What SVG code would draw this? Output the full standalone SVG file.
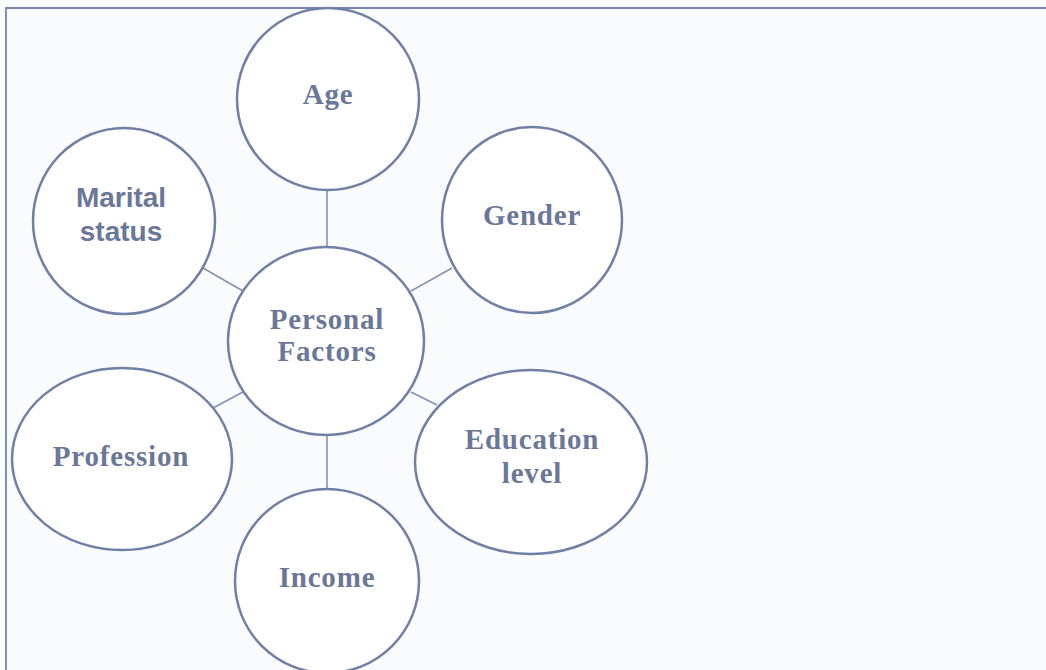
<svg xmlns="http://www.w3.org/2000/svg" width="1046" height="670" viewBox="0 0 1046 670">
  <style>
    .node { fill: #ffffff; stroke: #6f7fa6; stroke-width: 2.5; }
    .link { stroke: #8593b5; stroke-width: 1.6; fill: none; }
    .frame { stroke: #7486ad; stroke-width: 1.8; fill: none; }
    .serif { font-family: "Liberation Serif", "Times New Roman", serif; font-weight: bold; font-size: 29px; letter-spacing: 0.8px; fill: #6a7798; text-anchor: middle; }
    .sans { font-family: "Liberation Sans", Arial, sans-serif; font-weight: bold; font-size: 28px; fill: #6a7798; text-anchor: middle; }
  </style>
  <rect x="0" y="0" width="1046" height="670" fill="#fafbfd"/>
  <!-- page frame -->
  <path class="frame" d="M 6 670 L 6 8 L 1046 8"/>

  <!-- connectors from the hub to each factor -->
  <g id="connectors">
    <line class="link" x1="327" y1="190" x2="327" y2="248"/>
    <line class="link" x1="203" y1="268" x2="243" y2="291"/>
    <line class="link" x1="452" y1="268" x2="411" y2="291"/>
    <line class="link" x1="213" y1="408" x2="243" y2="392"/>
    <line class="link" x1="437" y1="405" x2="411" y2="392"/>
    <line class="link" x1="327" y1="435" x2="327" y2="490"/>
  </g>

  <g id="age">
    <ellipse class="node" cx="328" cy="99" rx="91" ry="91"/>
    <text class="serif" x="328" y="104">Age</text>
  </g>

  <g id="marital-status">
    <ellipse class="node" cx="124" cy="221" rx="91" ry="93"/>
    <text class="sans" x="121" y="207">Marital</text>
    <text class="sans" x="121" y="241">status</text>
  </g>

  <g id="gender">
    <ellipse class="node" cx="532" cy="220" rx="90" ry="93"/>
    <text class="serif" x="532" y="225">Gender</text>
  </g>

  <g id="personal-factors">
    <ellipse class="node" cx="326" cy="341" rx="98" ry="94"/>
    <text class="serif" x="327" y="329">Personal</text>
    <text class="serif" x="327" y="361">Factors</text>
  </g>

  <g id="profession">
    <ellipse class="node" cx="122" cy="459" rx="110" ry="91"/>
    <text class="serif" x="121" y="466">Profession</text>
  </g>

  <g id="education-level">
    <ellipse class="node" cx="531" cy="462" rx="116" ry="92"/>
    <text class="serif" x="532" y="449">Education</text>
    <text class="serif" x="532" y="483">level</text>
  </g>

  <g id="income">
    <ellipse class="node" cx="327" cy="581" rx="92" ry="92"/>
    <text class="serif" x="327" y="587">Income</text>
  </g>
</svg>
